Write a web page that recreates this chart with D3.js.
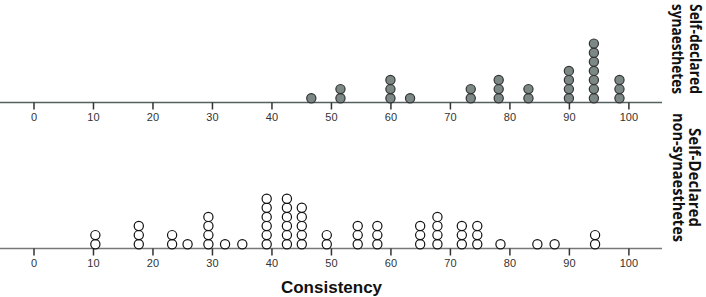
<!DOCTYPE html>
<html><head><meta charset="utf-8">
<script src="https://cdn.jsdelivr.net/npm/d3@7"></script>
<style>body{margin:0;background:#fff}svg{display:block}</style>
</head><body>
<svg id="chart" width="706" height="297"></svg>
<script>
// Self-declared synaesthetes: consistency score positions and number of stacked dots
const synValues = [46.7, 51.6, 60.0, 63.3, 73.5, 78.2, 83.2, 90.0, 94.2, 98.5];
const synCounts = [1, 2, 3, 1, 2, 3, 2, 4, 7, 3];
// Self-declared non-synaesthetes
const nonValues = [10.4, 17.7, 23.3, 25.9, 29.4, 32.2, 35.1, 39.2, 42.6, 45.1, 49.3, 54.5, 57.8, 65.0, 67.9, 72.0, 74.6, 78.5, 84.7, 87.6, 94.4];
const nonCounts = [2, 3, 2, 1, 4, 1, 1, 6, 6, 5, 2, 3, 3, 3, 4, 3, 3, 1, 1, 1, 2];
const tickValues = [0, 10, 20, 30, 40, 50, 60, 70, 80, 90, 100];
const topLabel = ["Self-declared", "synaesthetes"];
const bottomLabel = ["Self-Declared", "non-synaesthetes"];
const xTitle = "Consistency";

const svg = d3.select("#chart");
const x = d3.scaleLinear().domain([-5.63, 105.65]).range([0, 662]);
const r = 4.6, step = 9.1, lift = 4.3;

function panel(axisY, values, counts, fill, axisColor, label, labelCY, labelX, labelLens) {
  const g = svg.append("g");
  const axis = d3.axisBottom(x).tickValues(tickValues).tickSize(7).tickSizeOuter(0).tickPadding(4);
  const ag = g.append("g").attr("transform", `translate(0,${axisY})`).call(axis);
  ag.attr("font-family", "'Liberation Sans', Arial, sans-serif").attr("font-size", 11);
  ag.select(".domain").attr("stroke", axisColor).attr("stroke-width", 1.3)
    .attr("d", `M${x.range()[0]},0H${x.range()[1]}`);
  ag.selectAll(".tick line").attr("stroke", "#333").attr("stroke-width", 1.5);
  ag.selectAll(".tick text").attr("fill", "#333");

  const dots = [];
  values.forEach((v, i) => { for (let k = 0; k < counts[i]; k++) dots.push({v, k}); });
  g.selectAll("circle").data(dots).join("circle")
    .attr("cx", d => x(d.v))
    .attr("cy", d => axisY - lift - d.k * step)
    .attr("r", r)
    .attr("fill", fill)
    .attr("stroke", fill === "#fff" ? "#111" : "#333")
    .attr("stroke-width", 1.2);

  label.forEach((t, i) => {
    g.append("text")
      .attr("transform", `translate(${labelX[i]},${labelCY}) rotate(90)`)
      .attr("text-anchor", "middle")
      .attr("font-family", "'Open Sans', sans-serif")
      .attr("font-weight", "bold")
      .attr("font-size", 15.5)
      .attr("fill", "#111")
      .attr("textLength", labelLens[i])
      .attr("lengthAdjust", "spacingAndGlyphs")
      .text(t);
  });
}

panel(102.5, synValues, synCounts, "#7b8885", "#55615e", topLabel, 49, [690, 672], [90, 90]);
panel(248.5, nonValues, nonCounts, "#fff", "#777", bottomLabel, 177.5, [689, 673], [99, 129]);

svg.append("text")
  .attr("x", 331.5).attr("y", 293)
  .attr("text-anchor", "middle")
  .attr("font-family", "'Liberation Sans', Arial, sans-serif")
  .attr("font-weight", "bold")
  .attr("font-size", 17)
  .attr("fill", "#111")
  .text(xTitle);
</script>
</body></html>
